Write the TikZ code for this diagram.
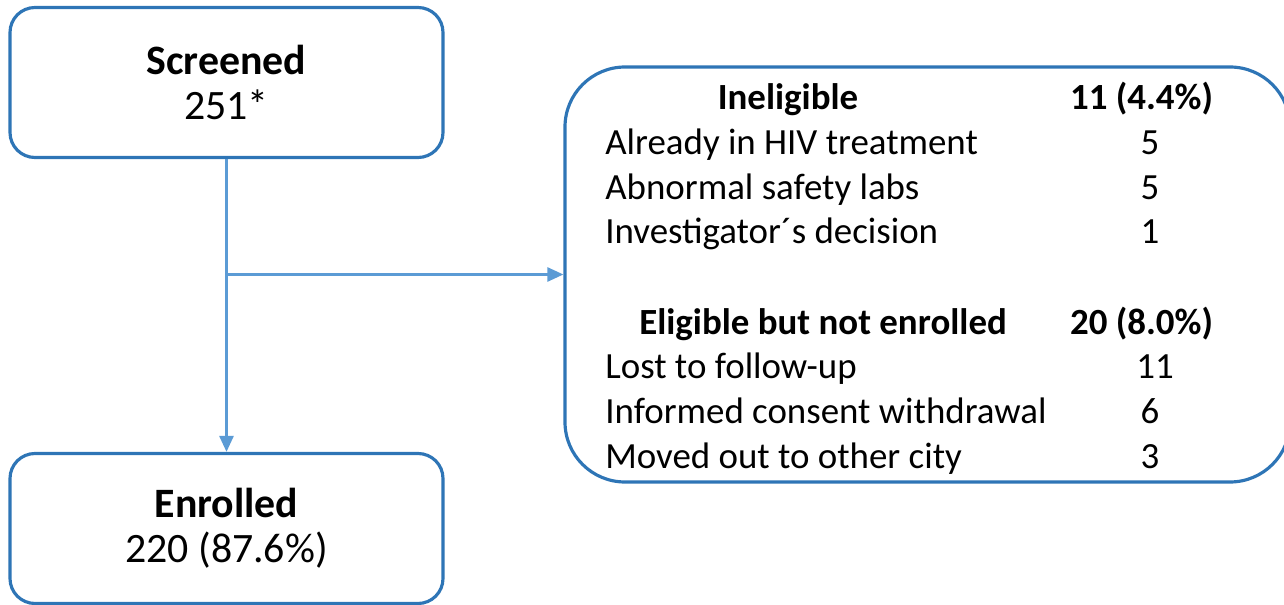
\documentclass[tikz,border=0pt]{standalone}
\usepackage{fontspec}
\setmainfont{Carlito}
\usetikzlibrary{arrows.meta}
\definecolor{boxblue}{HTML}{2E75B6}
\definecolor{linkblue}{HTML}{5B9BD5}

\begin{document}
\begin{tikzpicture}[
		flowbox/.style={draw=boxblue, line width=1.8pt, rounded corners=0.5cm, minimum width=8.66cm, minimum height=3.0cm, align=center, font=\fontsize{23.8}{25.5}\selectfont},
		link/.style={draw=linkblue, line width=1.5pt, -{Triangle[length=0.32cm,width=0.28cm]}},
		item/.style={anchor=west, inner sep=0pt, text height=0.72em, text depth=0.22em, font=\fontsize{21}{25}\selectfont},
		count/.style={inner sep=0pt, text height=0.72em, text depth=0.22em, font=\fontsize{21}{25}\selectfont}
	]
		\useasboundingbox (0,0) rectangle (25.68,-12.10);
		% left column
		\node[flowbox] (scr) at (4.53,-1.65) {\textbf{Screened}\\251*};
		\node[flowbox] (enr) at (4.53,-10.57) {\textbf{Enrolled}\\220 (87.6\%)};
		% exclusions
		\node[draw=boxblue, line width=1.8pt, rounded corners=1.2cm, minimum width=14.5cm, minimum height=8.3cm] (excl) at (18.55,-5.49) {};
		\coordinate (split) at (scr.south |- excl.west);
		\draw[link] (scr.south) -- (enr.north);
		\draw[link] (split) -- (excl.west);
		% ineligible
		\node[count, font=\fontsize{21}{25}\selectfont\bfseries] (inel) at (15.76,-2.10) {Ineligible};
		\node[count, font=\fontsize{21}{25}\selectfont\bfseries] (inelN) at (22.83,-2.10) {11 (4.4\%)};
		\node[item] (hiv) at (12.1,-3.00) {Already in HIV treatment};
		\node[count] (hivN) at (23.0,-3.00) {5};
		\node[item] (labs) at (12.1,-3.90) {Abnormal safety labs};
		\node[count] (labsN) at (23.0,-3.90) {5};
		\node[item] (inv) at (12.1,-4.78) {Investigator´s decision};
		\node[count] (invN) at (23.0,-4.78) {1};
		% eligible, not enrolled
		\node[count, font=\fontsize{21}{25}\selectfont\bfseries] (elig) at (16.46,-6.60) {Eligible but not enrolled};
		\node[count, font=\fontsize{21}{25}\selectfont\bfseries] (eligN) at (22.83,-6.60) {20 (8.0\%)};
		\node[item] (lost) at (12.1,-7.48) {Lost to follow-up};
		\node[count] (lostN) at (23.1,-7.48) {11};
		\node[item] (cons) at (12.1,-8.38) {Informed consent withdrawal};
		\node[count] (consN) at (23.0,-8.38) {6};
		\node[item] (moved) at (12.1,-9.28) {Moved out to other city};
		\node[count] (movedN) at (23.0,-9.28) {3};
\end{tikzpicture}
\end{document}
